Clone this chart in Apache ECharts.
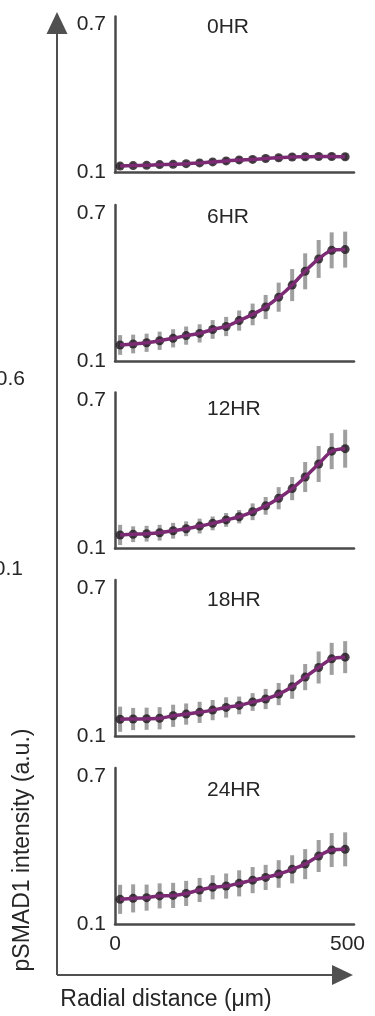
<!DOCTYPE html>
<html>
<head>
<meta charset="utf-8">
<script src="https://cdn.jsdelivr.net/npm/echarts@6/dist/echarts.min.js"></script>
<style>
html,body{margin:0;padding:0;background:#fff;}
#chart{width:375px;height:1016px;}
</style>
</head>
<body>
<div id="chart"></div>
<script>
// ---- data ----
const panelTitles = ['0HR', '6HR', '12HR', '18HR', '24HR'];
const distance = [11, 39, 68, 96, 125, 153, 182, 210, 239, 267, 296, 324, 352, 381, 409, 438, 466, 495];
const xTicks = [0, 500];
const yTicks = [0.1, 0.7];

const hr0 = [0.126, 0.128, 0.129, 0.132, 0.133, 0.136, 0.139, 0.143, 0.147, 0.151, 0.153, 0.157, 0.160, 0.163, 0.164, 0.165, 0.165, 0.164];
const hr0Err = [0.012, 0.011, 0.011, 0.011, 0.011, 0.011, 0.011, 0.011, 0.012, 0.012, 0.012, 0.012, 0.012, 0.012, 0.013, 0.013, 0.013, 0.013];

const hr6 = [0.165, 0.169, 0.174, 0.182, 0.192, 0.203, 0.212, 0.228, 0.240, 0.264, 0.289, 0.319, 0.359, 0.408, 0.464, 0.514, 0.549, 0.552];
const hr6Err = [0.040, 0.038, 0.037, 0.037, 0.037, 0.037, 0.037, 0.038, 0.039, 0.041, 0.044, 0.049, 0.059, 0.065, 0.073, 0.077, 0.073, 0.073];

const hr12 = [0.155, 0.158, 0.160, 0.164, 0.172, 0.180, 0.191, 0.202, 0.216, 0.229, 0.249, 0.273, 0.304, 0.343, 0.390, 0.443, 0.495, 0.505];
const hr12Err = [0.041, 0.032, 0.032, 0.032, 0.032, 0.030, 0.030, 0.028, 0.028, 0.027, 0.034, 0.036, 0.045, 0.047, 0.061, 0.073, 0.073, 0.077];

const hr18 = [0.168, 0.169, 0.170, 0.172, 0.182, 0.189, 0.196, 0.205, 0.216, 0.224, 0.238, 0.250, 0.270, 0.300, 0.339, 0.378, 0.413, 0.420];
const hr18Err = [0.051, 0.045, 0.045, 0.045, 0.045, 0.043, 0.043, 0.041, 0.041, 0.036, 0.036, 0.041, 0.045, 0.049, 0.053, 0.065, 0.065, 0.065];

const hr24 = [0.200, 0.204, 0.207, 0.214, 0.216, 0.224, 0.238, 0.249, 0.254, 0.265, 0.278, 0.289, 0.303, 0.322, 0.343, 0.376, 0.400, 0.403];
const hr24Err = [0.059, 0.057, 0.053, 0.051, 0.051, 0.051, 0.049, 0.049, 0.051, 0.053, 0.053, 0.051, 0.056, 0.057, 0.061, 0.065, 0.069, 0.069];

const yAxisName = 'pSMAD1 intensity (a.u.)';
const xAxisName = 'Radial distance (μm)';

// ---- layout ----
const FONT = '"Liberation Sans", Arial, sans-serif';
const panelValues = [hr0, hr6, hr12, hr18, hr24];
const panelErrors = [hr0Err, hr6Err, hr12Err, hr18Err, hr24Err];
const axisBottoms = [172.5, 361, 548.5, 736, 924];
const titleCenters = [27, 217, 409, 600, 790];
const PANEL_H = 156;
const AXIS_COLOR = '#4a4a4a';
const TEXT_COLOR = '#262626';

const grids = [], xAxes = [], yAxes = [], series = [], graphics = [];

panelTitles.forEach((t, i) => {
  grids.push({ left: 115, width: 239, top: axisBottoms[i] - PANEL_H, height: PANEL_H });
  const last = i === panelTitles.length - 1;
  xAxes.push({
    type: 'value', gridIndex: i, min: xTicks[0], max: 514, interval: xTicks[1] - xTicks[0],
    axisLine: { show: true, lineStyle: { color: AXIS_COLOR, width: 2.5 } },
    axisTick: { show: false }, splitLine: { show: false },
    axisLabel: {
      show: last, margin: 10, fontSize: 21, fontFamily: FONT, color: TEXT_COLOR,
      formatter: v => (xTicks.some(k => Math.abs(k - v) < 1e-6) ? String(v) : '')
    }
  });
  yAxes.push({
    type: 'value', gridIndex: i, min: yTicks[0], max: 0.733, interval: yTicks[1] - yTicks[0],
    axisLine: { show: true, lineStyle: { color: AXIS_COLOR, width: 2.5 } },
    axisTick: { show: false }, splitLine: { show: false },
    axisLabel: {
      margin: 9, fontSize: 21, fontFamily: FONT, color: TEXT_COLOR,
      formatter: v => { const k = yTicks.find(k => Math.abs(k - v) < 1e-6); return k === undefined ? '' : k.toFixed(1); }
    }
  });
  const vals = panelValues[i], errs = panelErrors[i];
  series.push({
    type: 'custom', xAxisIndex: i, yAxisIndex: i, z: 1,
    data: distance.map((d, j) => [d, vals[j] - errs[j], vals[j] + errs[j]]),
    encode: { x: 0, y: [1, 2] },
    renderItem: (params, api) => {
      const p1 = api.coord([api.value(0), api.value(1)]);
      const p2 = api.coord([api.value(0), api.value(2)]);
      return { type: 'line', shape: { x1: p1[0], y1: p1[1], x2: p2[0], y2: p2[1] },
        style: { stroke: 'rgba(135,135,135,0.8)', lineWidth: 4 } };
    },
    silent: true
  });
  series.push({
    type: 'scatter', xAxisIndex: i, yAxisIndex: i, z: 2,
    data: distance.map((d, j) => [d, vals[j]]),
    symbolSize: 9, itemStyle: { color: '#1c141c' }, silent: true
  });
  series.push({
    type: 'line', xAxisIndex: i, yAxisIndex: i, z: 3,
    data: distance.map((d, j) => [d, vals[j]]),
    smooth: 0.3, showSymbol: false, symbol: 'none',
    lineStyle: { color: '#7b2a73', width: 3.5 }, silent: true
  });
  graphics.push({
    type: 'text', x: 207, y: titleCenters[i],
    style: { text: t, fontSize: 21, fontFamily: FONT, fill: TEXT_COLOR, align: 'left', verticalAlign: 'middle' }
  });
});

// big axis arrows and names
graphics.push(
  { type: 'polyline', shape: { points: [[57, 975], [57, 30]] }, style: { stroke: '#505050', lineWidth: 2, fill: null } },
  { type: 'polygon', shape: { points: [[57, 12], [46.5, 34], [67.5, 34]] }, style: { fill: '#505050' } },
  { type: 'polyline', shape: { points: [[57, 975], [336, 975]] }, style: { stroke: '#505050', lineWidth: 2, fill: null } },
  { type: 'polygon', shape: { points: [[353, 975], [332, 965], [332, 985]] }, style: { fill: '#505050' } },
  { type: 'text', x: 23, y: 850, rotation: Math.PI / 2,
    style: { text: yAxisName, fontSize: 23, fontFamily: FONT, fill: TEXT_COLOR, align: 'center', verticalAlign: 'middle' } },
  { type: 'text', x: 166, y: 1000,
    style: { text: xAxisName, fontSize: 23, fontFamily: FONT, fill: TEXT_COLOR, align: 'center', verticalAlign: 'middle' } },
  { type: 'text', x: 25, y: 379,
    style: { text: '0.6', fontSize: 21, fontFamily: FONT, fill: TEXT_COLOR, align: 'right', verticalAlign: 'middle' } },
  { type: 'text', x: 23, y: 569,
    style: { text: '0.1', fontSize: 21, fontFamily: FONT, fill: TEXT_COLOR, align: 'right', verticalAlign: 'middle' } }
);

const chart = echarts.init(document.getElementById('chart'), null, { renderer: 'canvas' });
chart.setOption({
  animation: false,
  backgroundColor: '#ffffff',
  grid: grids, xAxis: xAxes, yAxis: yAxes, series: series, graphic: graphics
});
</script>
</body>
</html>
